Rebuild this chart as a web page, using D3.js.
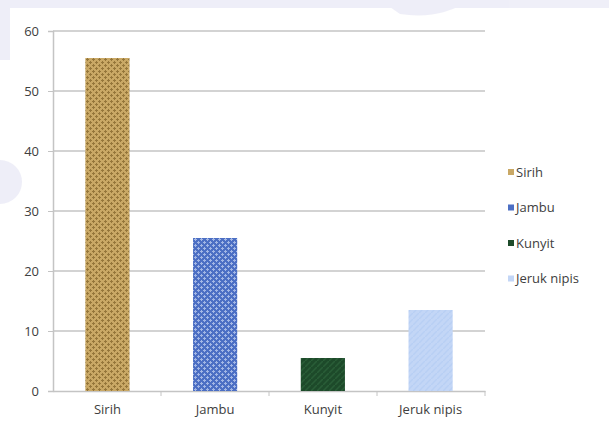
<!DOCTYPE html>
<html>
<head>
<meta charset="utf-8">
<script src="https://cdn.jsdelivr.net/npm/d3@7"></script>
<style>
  body { margin: 0; background: #fff; }
  svg { display: block; }
  text { font-family: "Liberation Sans Narrow", "Open Sans", "Liberation Sans", sans-serif; fill: #404040; }
</style>
</head>
<body>
<svg id="chart" width="609" height="428"></svg>
<script>
// data
var categories = ["Sirih", "Jambu", "Kunyit", "Jeruk nipis"];
var values = [55.5, 25.5, 5.5, 13.5];
var yTicks = [0, 10, 20, 30, 40, 50, 60];
var barColors = ["#c9a865", "#4c6fc4", "#1d4a2a", "#c3d6f6"];
var weaveColors = ["#7e6128", "#c8d6f4", "#3c7a4a", "#a8c4f0"];

var svg = d3.select("#chart"),
margin = {top: 31, right: 124, bottom: 37, left: 53},
width = +svg.attr("width") - margin.left - margin.right,
height = +svg.attr("height") - margin.top - margin.bottom;

// faint watermark in the background
var wm = svg.append("g").attr("fill", "#e4e4f4").attr("opacity", 0.6);
wm.append("rect").attr("x", 0).attr("y", 0).attr("width", 609).attr("height", 8);
wm.append("rect").attr("x", 0).attr("y", 0).attr("width", 10).attr("height", 60);
wm.append("path").attr("d", "M0,160 A22,22 0 0 1 0,204 Z");
wm.append("path").attr("d", "M380,0 L470,0 Q440,20 400,14 Z");

// texture patterns for the bars
var defs = svg.append("defs");
categories.forEach(function(c, i) {
   var p = defs.append("pattern")
   .attr("id", "pat" + i)
   .attr("patternUnits", "userSpaceOnUse")
   .attr("width", 6).attr("height", 6);
   p.append("rect").attr("width", 6).attr("height", 6).attr("fill", barColors[i]);
   if (i < 2) {
      p.append("path").attr("d", "M0,1.5H3M3,4.5H6M1.5,0V3M4.5,3V6")
      .attr("stroke", weaveColors[i]).attr("stroke-width", 1).attr("opacity", 0.7);
   } else {
      p.append("path").attr("d", "M0,6L6,0")
      .attr("stroke", weaveColors[i]).attr("stroke-width", 1.5).attr("opacity", 0.4);
   }
});

var g = svg.append("g").attr("transform", "translate(" + margin.left + "," + margin.top + ")");

var x = d3.scaleBand()
.domain(categories)
.range([0, width])
.paddingInner(0.59)
.paddingOuter(0.3);

var xTick = d3.scaleBand().domain(categories).range([0, width]);

var y = d3.scaleLinear()
.domain([0, 60])
.range([height, 0]);

// gridlines
g.selectAll(".grid")
.data(yTicks.slice(1))
.enter().append("line")
.attr("x1", 0).attr("x2", width)
.attr("y1", function(d) { return y(d); })
.attr("y2", function(d) { return y(d); })
.attr("stroke", "#c4c4c4").attr("stroke-width", 1.5);

// y axis
var yAxis = g.append("g")
.call(d3.axisLeft(y).tickValues(yTicks).tickSize(5).tickPadding(9));
yAxis.select(".domain").attr("stroke", "#c4c4c4").attr("stroke-width", 1.5);
yAxis.selectAll(".tick line").attr("stroke", "#c4c4c4");
yAxis.selectAll(".tick text").style("font-size", "13px").attr("fill", "#404040");

// x axis with ticks between categories
var xAxis = g.append("g")
.attr("transform", "translate(0," + height + ")")
.call(d3.axisBottom(x).tickSize(0).tickPadding(14));
xAxis.select(".domain").attr("stroke", "#c4c4c4").attr("stroke-width", 1.5);
xAxis.selectAll(".tick text").style("font-size", "13px").attr("fill", "#404040");
g.append("g").selectAll("line")
.data(categories)
.enter().append("line")
.attr("x1", function(d) { return xTick(d) + xTick.bandwidth(); })
.attr("x2", function(d) { return xTick(d) + xTick.bandwidth(); })
.attr("y1", height).attr("y2", height + 5)
.attr("stroke", "#c4c4c4");

// bars
g.selectAll(".bar")
.data(values)
.enter().append("rect")
.attr("class", "bar")
.attr("x", function(d, i) { return x(categories[i]); })
.attr("y", function(d) { return y(d); })
.attr("width", x.bandwidth())
.attr("height", function(d) { return height - y(d); })
.attr("fill", function(d, i) { return "url(#pat" + i + ")"; });

// legend
var legend = svg.append("g").attr("transform", "translate(508,172)");
var item = legend.selectAll(".item")
.data(categories)
.enter().append("g")
.attr("transform", function(d, i) { return "translate(0," + (i * 35.5) + ")"; });
item.append("rect")
.attr("x", 0).attr("y", -3).attr("width", 6).attr("height", 6)
.attr("fill", function(d, i) { return barColors[i]; });
item.append("text")
.attr("x", 8).attr("dy", "0.35em")
.style("font-size", "13px")
.text(function(d) { return d; });
</script>
</body>
</html>
